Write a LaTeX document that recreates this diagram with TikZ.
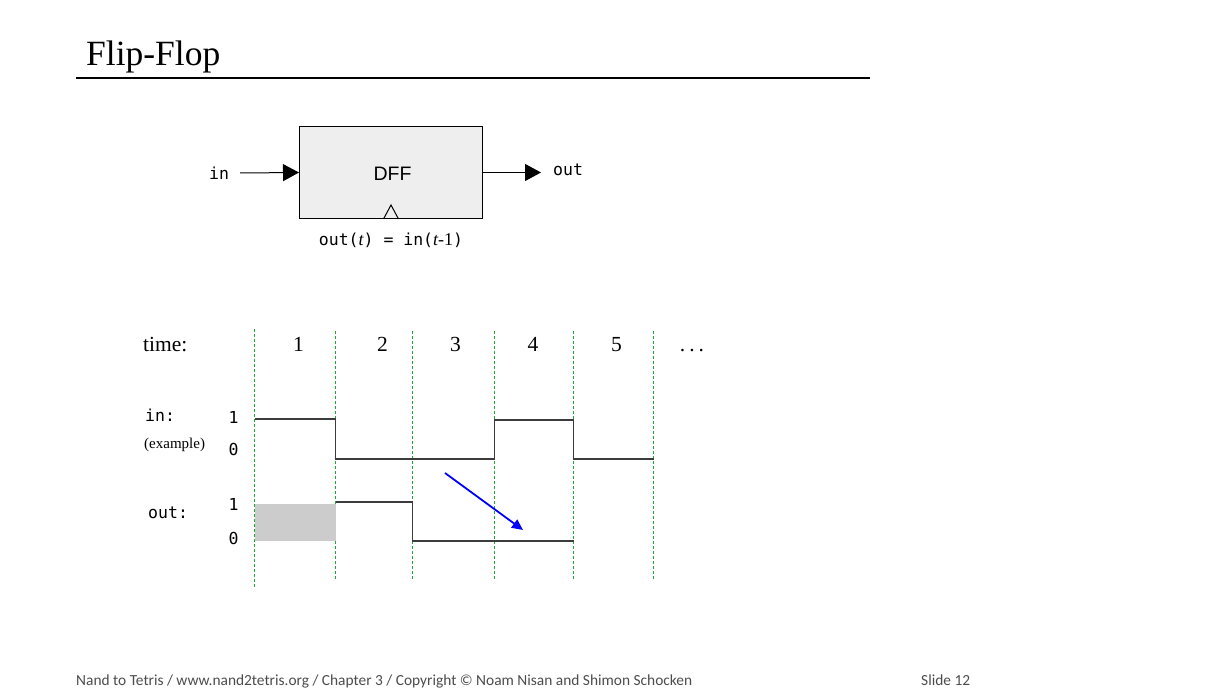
\documentclass[tikz,border=0pt]{standalone}
\usepackage{fontspec}
\setmainfont{Liberation Serif}
\newfontfamily\dffsans{Liberation Sans}
\newfontfamily\dffmono{DejaVu Sans Mono}
\newfontfamily\footfont{Carlito}
\usetikzlibrary{arrows.meta, positioning, calc}
\definecolor{boxgray}{RGB}{238,238,238}
\definecolor{shadegray}{RGB}{204,204,204}
\definecolor{clockgreen}{RGB}{30,170,50}
\definecolor{wavegray}{RGB}{60,60,60}

\begin{document}
\begin{tikzpicture}[
    x=1pt, y=-1pt,
    mono/.style={font=\dffmono\fontsize{16.5}{18}\selectfont, inner sep=0pt},
    serifnum/.style={font=\fontsize{21.5}{24}\selectfont, inner sep=0pt},
    wire/.style={-{Triangle[length=16pt,width=17pt]}, line width=1pt},
    wave/.style={line width=1.5pt, wavegray},
    clockline/.style={clockgreen, line width=1pt, dash pattern=on 3pt off 2pt},
    footer/.style={font=\footfont\fontsize{15.4}{17}\selectfont, text=black!70, inner sep=0pt}
]
    \useasboundingbox (0,0) rectangle (1224,692);

    % Title
    \node[anchor=base west, inner sep=0pt, font=\fontsize{35.5}{40}\selectfont] (title) at (86,66) {Flip-Flop};
    \draw[line width=1.8pt] (76,78) -- (870,78);

    % DFF chip
    \node[draw, fill=boxgray, line width=1pt, minimum width=183pt, minimum height=92pt,
          font=\dffsans\fontsize{19.5}{21}\selectfont, text depth=0pt] (dff) at (391,172.5)
          {\raisebox{-3pt}{\hspace{3pt}DFF}};
    \draw[line width=1pt] ($(dff.south)+(-7.5,0)$) -- ++(7.5,-14) -- ++(7.5,14);
    \node[mono] (inlbl) at (219,173) {in};
    \draw[wire] ([xshift=11pt]inlbl.east) -- (dff.west);
    \draw[wire] (dff.east) -- ++(58,0) coordinate (outtip);
    \node[mono, anchor=west, right=12pt of outtip, yshift=2.5pt] (outlbl) {out};
    \node[mono] (eqn) at (391,240)
        {out({\rmfamily\itshape\fontsize{18}{18}\selectfont t}) = in({\rmfamily\itshape\fontsize{18}{18}\selectfont t}{\rmfamily\fontsize{18}{18}\selectfont -1})};

    % Clock cycles
    \foreach \x [count=\i] in {254.5,335.5,412.5,494.5,573.5,653.5}
        \coordinate (c\i) at (\x,0);
    \draw[clockline] (c1|-0,329) -- (c1|-0,588);
    \foreach \i in {2,...,6}
        \draw[clockline] (c\i|-0,331) -- (c\i|-0,580);

    \node[serifnum, anchor=base west] (timelbl) at (143,352) {time:};
    \node[serifnum, anchor=base] (t1) at (298.5,352) {1};
    \node[serifnum, anchor=base] (t2) at (382.5,352) {2};
    \node[serifnum, anchor=base] (t3) at (455.5,352) {3};
    \node[serifnum, anchor=base] (t4) at (533,352) {4};
    \node[serifnum, anchor=base] (t5) at (616.5,352) {5};
    \node[serifnum, anchor=base] (tdots) at (692,352) {.\hspace{4pt}.\hspace{4pt}.};

    % in signal
    \node[mono, anchor=west] (inname) at (145,415) {in:};
    \node[anchor=west, inner sep=0pt, font=\fontsize{15}{17}\selectfont] (example) at (144,445) {(example)};
    \node[mono] (inhi) at (233.5,417) {1};
    \node[mono] (inlo) at (233.5,449) {0};
    \draw[wave] (c1|-0,419) -- (c2|-0,419) -- (c2|-0,459) -- (c4|-0,459)
        -- (c4|-0,420) -- (c5|-0,420) -- (c5|-0,459) -- (c6|-0,459);

    % out signal
    \node[mono, anchor=west] (outname) at (148,513) {out:};
    \node[mono] (outhi) at (233.5,504) {1};
    \node[mono] (outlo) at (233.5,538) {0};
    \fill[shadegray] (c1|-0,503.5) rectangle (c2|-0,540.5);
    \draw[wave] (c2|-0,502) -- (c3|-0,502) -- (c3|-0,541) -- (c5|-0,541);

    % delay arrow
    \coordinate (delayfrom) at (445,473);
    \coordinate (delayto) at (523,530);
    \draw[blue, line width=1.8pt, -{Triangle[length=11pt,width=10pt]}] (delayfrom) -- (delayto);

    % Footer
    \node[footer, anchor=base west] (credits) at (76,685)
        {Nand to Tetris / www.nand2tetris.org / Chapter 3 / Copyright \textcopyright{} Noam Nisan and Shimon Schocken};
    \node[footer, anchor=base west] (slidenum) at (921,685) {Slide 12};
\end{tikzpicture}
\end{document}
